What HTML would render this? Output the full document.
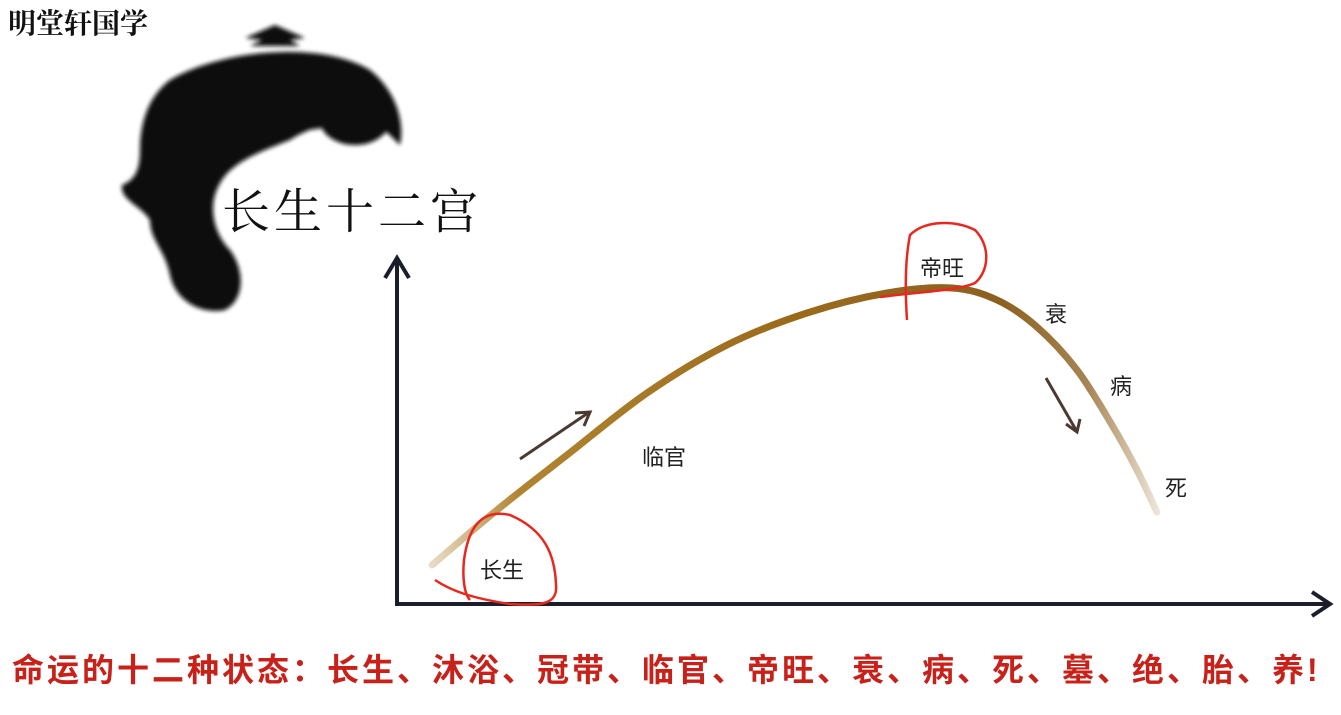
<!DOCTYPE html>
<html><head><meta charset="utf-8"><style>
body{margin:0;background:#fff;width:1341px;height:715px;overflow:hidden}
svg{display:block}
text{font-family:"Liberation Sans","Noto Sans CJK SC",sans-serif}
</style></head><body>
<svg width="1341" height="715" viewBox="0 0 1341 715">
<defs>
<linearGradient id="cg" x1="432" y1="0" x2="1160" y2="0" gradientUnits="userSpaceOnUse">
<stop offset="0" stop-color="#e8dcc8"/><stop offset="0.12" stop-color="#b08430"/><stop offset="0.5" stop-color="#9a6a1c"/><stop offset="0.78" stop-color="#8d6020"/><stop offset="0.9" stop-color="#a68453"/><stop offset="1" stop-color="#f0e8dc"/>
</linearGradient>
<filter id="bl"><feGaussianBlur stdDeviation="2"/></filter>
</defs>
<text x="8" y="33" font-size="28" font-weight="bold" fill="#111" style="font-family:'Liberation Serif','Noto Serif CJK SC',serif">明堂轩国学</text>
<g fill="#0a0a0a" filter="url(#bl)">
<path d="M245 38 L275 25 L305 38 L290 40 L300 46 L250 46 L262 40 Z"/>
<path d="M170 80 C220 50 320 40 370 70 C395 90 405 120 400 145 C385 130 370 115 350 118 C330 122 305 130 290 140 C265 150 235 160 222 180 C205 205 215 235 230 250 C245 270 245 300 225 310 C200 315 175 300 170 275 C165 250 150 240 150 220 C140 205 120 200 122 185 C135 180 140 170 140 150 C140 120 150 95 170 80 Z"/>
<ellipse cx="190" cy="130" rx="45" ry="50"/>
<ellipse cx="300" cy="95" rx="65" ry="35"/>
<ellipse cx="355" cy="120" rx="35" ry="25"/>
</g>
<text x="222" y="228" font-size="48" fill="#111" style="font-family:'Liberation Serif','Noto Serif CJK SC',serif;letter-spacing:4px">长生十二宫</text>
<g stroke="#1b1d2a" stroke-width="4" fill="none">
<line x1="397" y1="606" x2="397" y2="262"/>
<polyline points="385,278 397,258 409,278"/>
<line x1="395" y1="604" x2="1328" y2="604"/>
<polyline points="1312,592 1330,604 1312,616"/>
</g>
<path id="curvepath" d="" stroke="url(#cg)" stroke-width="7" fill="none" stroke-linecap="round"/>
<g stroke="#4a3a32" stroke-width="3" fill="none">
<line x1="520" y1="459" x2="588" y2="413"/><polyline points="575,413 590,412 584,426"/>
<line x1="1046" y1="378" x2="1076" y2="430"/><polyline points="1066,424 1077,432 1080,419"/>
</g>
<g font-size="22" fill="#222">
<text x="480" y="578">长生</text>
<text x="642" y="465">临官</text>
<text x="920" y="276">帝旺</text>
<text x="1045" y="322">衰</text>
<text x="1110" y="394">病</text>
<text x="1165" y="496">死</text>
</g>
<g stroke="#e8281e" stroke-width="2.5" fill="none">
<path d="M435 580 C450 590 470 598 510 604 C540 606 558 605 556 585 C555 555 545 530 510 515 C480 508 468 530 464 560 C462 580 465 595 470 600"/>
<path d="M880 297 C920 292 960 290 975 283 C990 270 990 245 975 230 C955 220 925 220 910 235 C905 260 905 290 907 320"/>
</g>
<text x="12" y="681" font-size="32" font-weight="bold" fill="#c8211a" style="letter-spacing:3px">命运的十二种状态：长生、沐浴、冠带、临官、帝旺、衰、病、死、墓、绝、胎、养!</text>
</svg>
<script>
const stageX=[35,100,170,250,330,410,490,555,600,640,680,715,740,760];
const stageY=[40,95,150,212,260,292,312,317,305,278,235,180,135,93];
function sx(v){return 397+v;}
function sy(v){return 605-v;}
const P=stageX.map((x,i)=>[sx(x),sy(stageY[i])]);
let d='M'+P[0][0]+' '+P[0][1];
for(let i=0;i<P.length-1;i++){
 const p0=i>0?P[i-1]:P[i],p1=P[i],p2=P[i+1],p3=i+2<P.length?P[i+2]:P[i+1];
 const c1=[p1[0]+(p2[0]-p0[0])/6,p1[1]+(p2[1]-p0[1])/6];
 const c2=[p2[0]-(p3[0]-p1[0])/6,p2[1]-(p3[1]-p1[1])/6];
 d+=' C'+c1[0]+' '+c1[1]+' '+c2[0]+' '+c2[1]+' '+p2[0]+' '+p2[1];
}
const path=document.getElementById('curvepath');
path.setAttribute('d',d);


</script>
</body></html>
